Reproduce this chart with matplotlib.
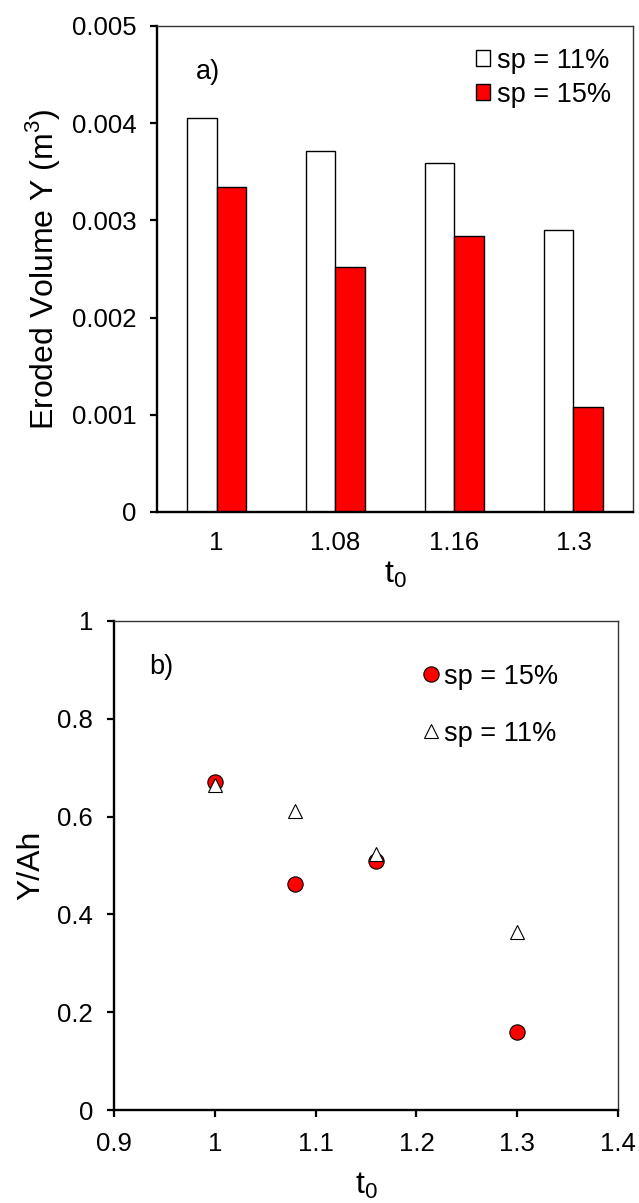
import matplotlib.pyplot as plt
from matplotlib.patches import Patch
from matplotlib.lines import Line2D

plt.rcParams['font.family'] = ['Liberation Sans', 'DejaVu Sans']
plt.rcParams['mathtext.fontset'] = 'custom'
plt.rcParams['mathtext.rm'] = 'Liberation Sans'

# -----------------------------------------
# Données
# -----------------------------------------
categories = ["1", "1.08", "1.16", "1.3"]
volume_sp11 = [0.00405, 0.00371, 0.00359, 0.00290]
volume_sp15 = [0.00334, 0.00252, 0.00284, 0.00108]

t0 = [1.0, 1.08, 1.16, 1.3]
ratio_sp15 = [0.671, 0.463, 0.509, 0.159]
ratio_sp11 = [0.665, 0.612, 0.524, 0.363]

yticks_a = [0, 0.001, 0.002, 0.003, 0.004, 0.005]
yticklabels_a = ["0", "0.001", "0.002", "0.003", "0.004", "0.005"]
xticks_b = [0.9, 1.0, 1.1, 1.2, 1.3, 1.4]
xticklabels_b = ["0.9", "1", "1.1", "1.2", "1.3", "1.4"]
yticks_b = [0, 0.2, 0.4, 0.6, 0.8, 1.0]
yticklabels_b = ["0", "0.2", "0.4", "0.6", "0.8", "1"]

fs_tick = 18.5
fs_leg = 19.5
fs_label = 23


def style_axes(ax):
    for s in ["left", "bottom"]:
        ax.spines[s].set_linewidth(1.7)
        ax.spines[s].set_color("black")
    for s in ["top", "right"]:
        ax.spines[s].set_linewidth(1.0)
        ax.spines[s].set_color("#333333")
    ax.tick_params(direction="out", length=5, width=1.6, labelsize=fs_tick, pad=10)


fig = plt.figure(figsize=(6.39, 12.03), dpi=100)

# -----------------------------------------
# a) histogramme
# -----------------------------------------
ax1 = fig.add_axes([0.2457, 0.5744, 0.9906 - 0.2457, 0.9784 - 0.5744])
pos = range(len(categories))
w = 0.25
ax1.bar([p - w / 2 for p in pos], volume_sp11, width=w, color="white",
        edgecolor="black", linewidth=1.0, label="sp = 11%")
ax1.bar([p + w / 2 for p in pos], volume_sp15, width=w, color="#FF0000",
        edgecolor="black", linewidth=1.0, label="sp = 15%")
ax1.set_xlim(-0.5, 3.5)
ax1.set_ylim(0, 0.005)
ax1.set_yticks(yticks_a)
ax1.set_yticklabels(yticklabels_a)
ax1.set_xticks(list(pos))
ax1.set_xticklabels(categories)
style_axes(ax1)
ax1.tick_params(axis="x", length=0, pad=14)
ax1.set_ylabel(r"Eroded Volume Y (m$^\mathregular{3}$)", fontsize=fs_label, labelpad=7)
ax1.set_xlabel(r"t$_\mathregular{0}$", fontsize=fs_label, labelpad=3)
ax1.text(0.082, 0.905, "a)", transform=ax1.transAxes, fontsize=fs_leg,
         va="center", ha="left")
h_a = [Patch(facecolor="white", edgecolor="black", linewidth=1.0),
       Patch(facecolor="#FF0000", edgecolor="black", linewidth=1.0)]
ax1.legend(h_a, ["sp = 11%", "sp = 15%"], loc="upper right",
           bbox_to_anchor=(1.0, 1.0), frameon=False, fontsize=fs_leg,
           handlelength=0.55, handleheight=0.55, handletextpad=0.25,
           labelspacing=0.3, borderaxespad=0.4)

# -----------------------------------------
# b) nuage de points
# -----------------------------------------
ax2 = fig.add_axes([0.1784, 0.0773, 0.9671 - 0.1784, 0.4838 - 0.0773])
ax2.plot(t0, ratio_sp15, linestyle="none", marker="o", markersize=11,
         markerfacecolor="#FF0000", markeredgecolor="black", markeredgewidth=0.8,
         label="sp = 15%")
ax2.plot(t0, ratio_sp11, linestyle="none", marker="^", markersize=10.5,
         markerfacecolor="white", markeredgecolor="black", markeredgewidth=0.8,
         label="sp = 11%")
ax2.set_xlim(0.9, 1.4)
ax2.set_ylim(0, 1)
ax2.set_xticks(xticks_b)
ax2.set_xticklabels(xticklabels_b)
ax2.set_yticks(yticks_b)
ax2.set_yticklabels(yticklabels_b)
style_axes(ax2)
ax2.tick_params(axis="x", pad=11)
ax2.set_ylabel("Y/Ah", fontsize=fs_label, labelpad=8)
ax2.set_xlabel(r"t$_\mathregular{0}$", fontsize=fs_label, labelpad=10)
ax2.text(0.07, 0.906, "b)", transform=ax2.transAxes, fontsize=fs_leg,
         va="center", ha="left")
h_b = [Line2D([], [], linestyle="none", marker="o", markersize=11,
              markerfacecolor="#FF0000", markeredgecolor="black", markeredgewidth=0.8),
       Line2D([], [], linestyle="none", marker="^", markersize=10.5,
              markerfacecolor="white", markeredgecolor="black", markeredgewidth=0.8)]
ax2.legend(h_b, ["sp = 15%", "sp = 11%"], loc="upper left",
           bbox_to_anchor=(0.595, 0.935), frameon=False, fontsize=fs_leg,
           handlelength=0.5, handletextpad=0.2, labelspacing=1.15,
           borderaxespad=0.0)

fig.savefig("out.png", dpi=100)
